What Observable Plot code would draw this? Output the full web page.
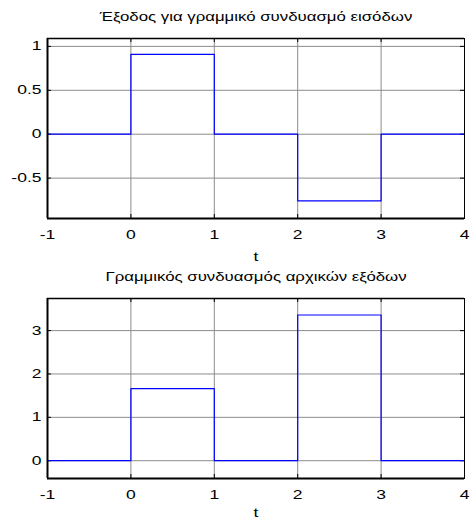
<!DOCTYPE html>
<html>
<head>
<meta charset="utf-8">
<script src="https://cdn.jsdelivr.net/npm/d3@7"></script>
<script src="https://cdn.jsdelivr.net/npm/@observablehq/plot@0.6"></script>
<style>
  html, body { margin: 0; padding: 0; background: #fff; }
  #wrap { width: 471px; height: 519px; overflow: hidden; }
  svg { display: block; font-family: "Liberation Sans", Arial, sans-serif; }
</style>
</head>
<body>
<div id="wrap"></div>
<script>
// Data
const tBreaks = [-1, 0, 1, 2, 3, 4];
const yTop = [0, 0.91, 0, -0.76, 0, 0];      // output for linear combination of inputs
const yBottom = [0, 1.66, 0, 3.36, 0, 0];     // linear combination of original outputs
const titleTop = "Έξοδος για γραμμικό συνδυασμό εισόδων";
const titleBottom = "Γραμμικός συνδυασμός αρχικών εξόδων";
const xLabel = "t";
const xTicks = [-1, 0, 1, 2, 3, 4];
const yTicksTop = [-0.5, 0, 0.5, 1];
const yTicksBottom = [0, 1, 2, 3];
const yDomainTop = [-0.96, 1.09];
const yDomainBottom = [-0.41, 3.74];

const W = 471;
const STRETCH = 1.4;

function makePlot({ys, yTicks, yDomain, title, height, marginTop, marginBottom, labelDy}) {
  const marginLeft = 47, marginRight = 7;
  const plotH = height - marginTop - marginBottom;
  const plotW = W - marginLeft - marginRight;
  const data = tBreaks.map((t, i) => ({t, y: ys[i]}));
  return Plot.plot({
    width: W,
    height,
    marginLeft, marginRight, marginTop, marginBottom,
    style: {fontSize: "12.5px", fontFamily: "'Liberation Sans', Arial, sans-serif", color: "#000", overflow: "visible"},
    x: {domain: [-1, 4], ticks: xTicks},
    y: {domain: yDomain, ticks: yTicks},
    marks: [
      Plot.gridX(xTicks, {stroke: "#8c8c8c", strokeOpacity: 1}),
      Plot.gridY(yTicks, {stroke: "#8c8c8c", strokeOpacity: 1}),
      // inward tick marks
      Plot.tickX(xTicks, {x: d => d, insetBottom: plotH - 4, stroke: "#000"}),
      Plot.tickX(xTicks, {x: d => d, insetTop: plotH - 4, stroke: "#000"}),
      Plot.tickY(yTicks, {y: d => d, insetRight: plotW - 4, stroke: "#000"}),
      Plot.tickY(yTicks, {y: d => d, insetLeft: plotW - 4, stroke: "#000"}),
      Plot.line(data, {x: "t", y: "y", curve: "step-after", stroke: "#0000ff", strokeWidth: 1.2}),
      Plot.frame({stroke: "#000", strokeWidth: 1}),
      Plot.ruleX([-1], {stroke: "#000", strokeWidth: 2}),
      Plot.ruleY([yDomain[0]], {stroke: "#000", strokeWidth: 2}),
      Plot.ruleY([yDomain[1]], {stroke: "#000", strokeWidth: 1.5}),
      Plot.axisX(xTicks, {tickSize: 0, tickPadding: 12, tickFormat: d => String(d), label: null}),
      Plot.axisY(yTicks, {tickSize: 0, tickPadding: 6, tickFormat: d => String(d), label: null}),
      Plot.text([title], {frameAnchor: "top", lineAnchor: "middle", dy: -21, fontSize: 12}),
      Plot.text([xLabel], {frameAnchor: "bottom", lineAnchor: "middle", dy: labelDy, fontSize: 12.5})
    ]
  });
}

const wrap = document.getElementById("wrap");
const p1 = makePlot({ys: yTop, yTicks: yTicksTop, yDomain: yDomainTop, title: titleTop, height: 260, marginTop: 38, marginBottom: 42, labelDy: 38});
const p2 = makePlot({ys: yBottom, yTicks: yTicksBottom, yDomain: yDomainBottom, title: titleBottom, height: 259, marginTop: 38, marginBottom: 41, labelDy: 34});
wrap.appendChild(p1);
wrap.appendChild(p2);

// horizontally stretch the text, as in the original (non-uniformly scaled) figure
for (const svg of [p1, p2]) {
  svg.querySelectorAll("text").forEach(el => {
    const len = el.getComputedTextLength();
    if (len > 0) {
      el.setAttribute("textLength", (len * STRETCH).toFixed(2));
      el.setAttribute("lengthAdjust", "spacingAndGlyphs");
    }
  });
}
</script>
</body>
</html>
